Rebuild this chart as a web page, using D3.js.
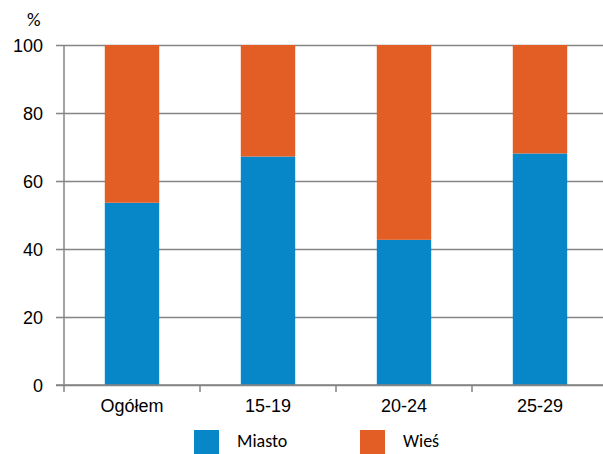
<!DOCTYPE html>
<html>
<head>
<meta charset="utf-8">
<script src="https://cdn.jsdelivr.net/npm/d3@7"></script>
<style>
  body { margin: 0; background: #fff; }
  svg { display: block; font-family: Carlito, Lato, "Open Sans", sans-serif; }
</style>
</head>
<body>
<svg id="chart" width="603" height="454"></svg>
<script>
// dane
const categories = ["Ogółem", "15-19", "20-24", "25-29"];
const miasto = [53.6, 67.2, 42.7, 68.1];
const wies = [46.4, 32.8, 57.3, 31.9];
const yTicks = [0, 20, 40, 60, 80, 100];
const seriesNames = ["Miasto", "Wieś"];
const colors = ["#0787c8", "#e25e25"];

const svg = d3.select("#chart");
const margin = { left: 64, top: 45, bottom: 69 };
const w = 544, h = 454 - margin.top - margin.bottom;

const x = d3.scaleBand().domain(categories).range([margin.left, margin.left + w])
    .paddingInner(0.6).paddingOuter(0.3);
const y = d3.scaleLinear().domain([0, 100]).range([margin.top + h, margin.top]);

// siatka
svg.append("g")
    .attr("transform", `translate(${margin.left},0)`)
    .call(d3.axisLeft(y).tickValues(yTicks).tickSize(-w - 10).tickPadding(21).tickFormat(d3.format("d")))
    .call(g => g.select(".domain").remove())
    .call(g => g.selectAll(".tick line").attr("stroke", "#858585").attr("stroke-width", 1.5)
        .attr("x1", -8))
    .call(g => g.selectAll(".tick text").attr("font-size", 18).attr("fill", "#000").attr("dy", "0.34em"));

// slupki
const stacked = d3.stack().keys([0, 1])(categories.map((c, i) => ({ 0: miasto[i], 1: wies[i], cat: c })));
svg.append("g").selectAll("g")
    .data(stacked)
    .join("g")
    .attr("fill", (d, i) => colors[i])
    .selectAll("rect")
    .data(d => d)
    .join("rect")
    .attr("x", d => x(d.data.cat))
    .attr("width", x.bandwidth())
    .attr("y", d => y(d[1]))
    .attr("height", d => y(d[0]) - y(d[1]));

// os y
svg.append("line")
    .attr("x1", margin.left).attr("x2", margin.left)
    .attr("y1", margin.top).attr("y2", margin.top + h)
    .attr("stroke", "#858585").attr("stroke-width", 1.5);

// os x
const xBand = d3.scaleBand().domain(categories).range([margin.left, margin.left + w]);
svg.append("g")
    .attr("transform", `translate(0,${margin.top + h})`)
    .call(d3.axisBottom(xBand).tickSize(0).tickPadding(14))
    .call(g => g.select(".domain").remove())
    .call(g => g.selectAll(".tick text").attr("font-size", 18).attr("fill", "#000"));

svg.append("g").selectAll("line")
    .data(categories)
    .join("line")
    .attr("x1", d => xBand(d)).attr("x2", d => xBand(d))
    .attr("y1", margin.top + h).attr("y2", margin.top + h + 7)
    .attr("stroke", "#858585").attr("stroke-width", 1.5);

svg.append("line")
    .attr("x1", margin.left - 8).attr("x2", margin.left + w)
    .attr("y1", margin.top + h).attr("y2", margin.top + h)
    .attr("stroke", "#858585").attr("stroke-width", 1.5);

svg.append("text").attr("x", 27).attr("y", 26).attr("font-size", 19).text("%");

// legenda
const legend = svg.append("g").selectAll("g")
    .data(seriesNames)
    .join("g")
    .attr("transform", (d, i) => `translate(${194 + i * 166},430)`);
legend.append("rect").attr("width", 25).attr("height", 24).attr("fill", (d, i) => colors[i]);
legend.append("text").attr("x", 43).attr("y", 17).attr("font-size", 18).text(d => d);
</script>
</body>
</html>
